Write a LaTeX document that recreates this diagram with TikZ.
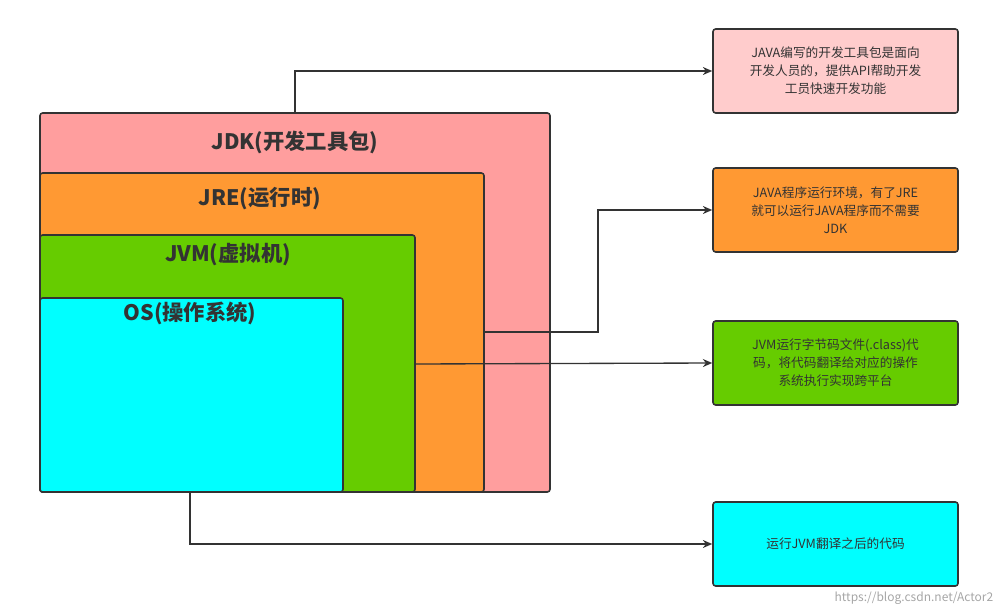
\documentclass[tikz,border=0pt]{standalone}
\usepackage{fontspec}
\setmainfont{Noto Sans CJK SC}
\usetikzlibrary{arrows.meta}
\definecolor{pk}{HTML}{FF9E9E}
\definecolor{lpk}{HTML}{FFCCCC}
\definecolor{org}{HTML}{FF9933}
\definecolor{grn}{HTML}{66CC00}
\definecolor{cyn}{HTML}{00FFFF}
\begin{document}
\begin{tikzpicture}[x=0.75pt,y=-0.75pt,
  box/.style={draw=black!80,line width=1.2pt,rounded corners=2pt},
  ttl/.style={font=\bfseries\fontsize{16}{18}\selectfont,text=black!80},
  note/.style={draw=black!80,line width=1.2pt,rounded corners=2pt,minimum width=183.75pt,minimum height=63pt,align=center,font=\fontsize{9.5}{13.5}\selectfont,text=black!80},
  arr/.style={draw=black!80,line width=1pt,-{Stealth[length=7pt,width=6pt]}}]
\useasboundingbox (0,0) rectangle (1004,614);
\draw[box,fill=pk] (40,113) rectangle (550,492);
\draw[box,fill=org] (40,173) rectangle (484,492);
\draw[box,fill=grn] (40,235) rectangle (415,492);
\draw[box,fill=cyn] (40,298) rectangle (343,492);
\node[ttl] (tjdk) at (295,142) {JDK(开发工具包)};
\node[ttl] (tjre) at (260,199) {JRE(运行时)};
\node[ttl] (tjvm) at (228,255) {JVM(虚拟机)};
\node[ttl] (tos) at (190,313) {OS(操作系统)};
\coordinate (jdktop) at (295,113);
\coordinate (jreR) at (484,332);
\coordinate (jvmR) at (415,364);
\coordinate (osB) at (190,492);
\node[note,fill=lpk] (n1) at (835.5,71) {JAVA编写的开发工具包是面向\\开发人员的，提供API帮助开发\\工员快速开发功能};
\node[note,fill=org] (n2) at (835.5,210) {JAVA程序运行环境，有了JRE\\就可以运行JAVA程序而不需要\\JDK};
\node[note,fill=grn] (n3) at (835.5,363) {JVM运行字节码文件(.class)代\\码，将代码翻译给对应的操作\\系统执行实现跨平台};
\node[note,fill=cyn] (n4) at (835.5,544) {运行JVM翻译之后的代码};
\draw[arr] (jdktop) |- (n1.west);
\draw[arr] (jreR) -| (598,271) |- (n2.west);
\draw[arr] (jvmR) -- (n3.west);
\draw[arr] (osB) |- (n4.west);
\node[anchor=east,text=black!35,font=\fontsize{9}{10}\selectfont] (wm) at (998,598) {https://blog.csdn.net/Actor2};
\end{tikzpicture}
\end{document}
